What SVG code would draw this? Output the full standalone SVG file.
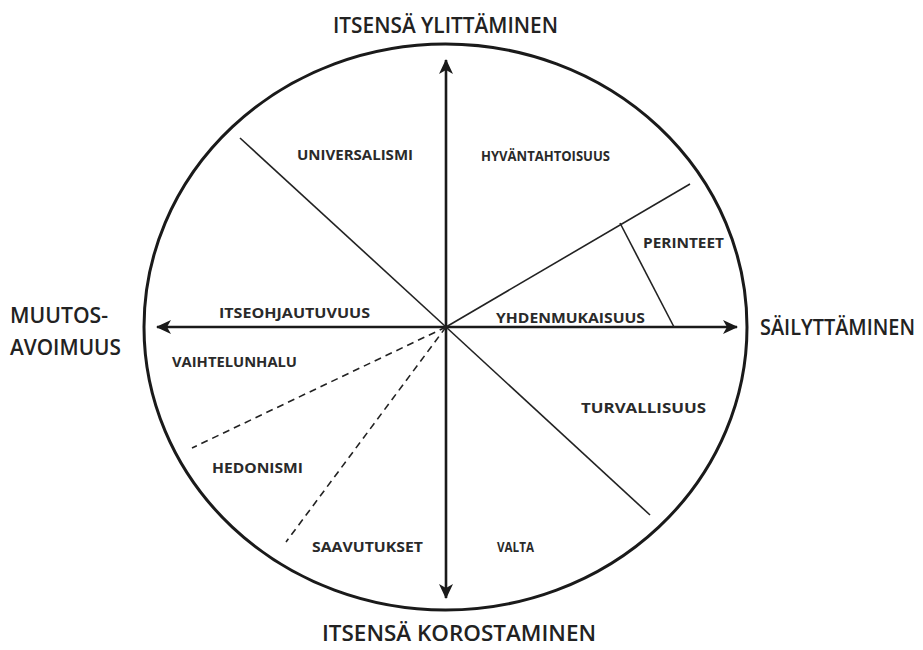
<svg xmlns="http://www.w3.org/2000/svg" width="923" height="650" viewBox="0 0 923 650">
<style>
.big{font-family:"Open Sans","Liberation Sans",sans-serif;font-weight:600;font-size:21px;fill:#222}
.lbl{font-family:"Open Sans","Liberation Sans",sans-serif;font-weight:700;font-size:14.5px;fill:#2a2a2a}
.axis{stroke:#1a1a1a;stroke-width:2.6;fill:none}
.div{stroke:#222;stroke-width:1.6;fill:none}
.dash{stroke:#222;stroke-width:1.6;fill:none;stroke-dasharray:7 5}
</style>
<defs>
<marker id="ah" markerUnits="userSpaceOnUse" markerWidth="16" markerHeight="14" refX="14" refY="7" orient="auto">
<path d="M0,0 L15,7 L0,14 L4,7 Z" fill="#1a1a1a"/>
</marker>
</defs>
<rect width="923" height="650" fill="#fff"/>
<g id="circle"><ellipse cx="445.5" cy="327" rx="301.5" ry="283" fill="none" stroke="#1a1a1a" stroke-width="3"/></g>
<g id="connectors">
<line class="axis" x1="446" y1="327" x2="446" y2="60" marker-end="url(#ah)"/>
<line class="axis" x1="446" y1="327" x2="446" y2="598" marker-end="url(#ah)"/>
<line class="axis" x1="446" y1="327" x2="157" y2="327" marker-end="url(#ah)"/>
<line class="axis" x1="446" y1="327" x2="737" y2="327" marker-end="url(#ah)"/>
<line class="div" x1="446" y1="327" x2="240" y2="138"/>
<line class="div" x1="446" y1="327" x2="690" y2="184"/>
<line class="div" x1="620" y1="223" x2="674" y2="327"/>
<line class="div" x1="446" y1="327" x2="650" y2="515"/>
<line class="dash" x1="446" y1="327" x2="192" y2="448"/>
<line class="dash" x1="446" y1="327" x2="286" y2="542"/>
</g>
<g id="top"><text class="big" x="333" y="33" textLength="225" lengthAdjust="spacingAndGlyphs">ITSENSÄ YLITTÄMINEN</text></g>
<g id="bottom"><text class="big" x="322" y="641" textLength="274" lengthAdjust="spacingAndGlyphs">ITSENSÄ KOROSTAMINEN</text></g>
<g id="left"><text class="big" x="10" y="323" textLength="98" lengthAdjust="spacingAndGlyphs">MUUTOS-</text><text class="big" x="10" y="355" textLength="111" lengthAdjust="spacingAndGlyphs">AVOIMUUS</text></g>
<g id="right"><text class="big" x="760" y="335" textLength="155" lengthAdjust="spacingAndGlyphs">SÄILYTTÄMINEN</text></g>
<g id="universalismi"><text class="lbl" x="297" y="160" textLength="116" lengthAdjust="spacingAndGlyphs">UNIVERSALISMI</text></g>
<g id="hyvantahtoisuus"><text class="lbl" x="481" y="161" textLength="129" lengthAdjust="spacingAndGlyphs">HYVÄNTAHTOISUUS</text></g>
<g id="perinteet"><text class="lbl" x="643" y="248" textLength="81" lengthAdjust="spacingAndGlyphs">PERINTEET</text></g>
<g id="yhdenmukaisuus"><text class="lbl" x="496" y="323" textLength="149" lengthAdjust="spacingAndGlyphs">YHDENMUKAISUUS</text></g>
<g id="itseohjautuvuus"><text class="lbl" x="219" y="318" textLength="151" lengthAdjust="spacingAndGlyphs">ITSEOHJAUTUVUUS</text></g>
<g id="vaihtelunhalu"><text class="lbl" x="172" y="367" textLength="125" lengthAdjust="spacingAndGlyphs">VAIHTELUNHALU</text></g>
<g id="turvallisuus"><text class="lbl" x="581" y="413" textLength="125" lengthAdjust="spacingAndGlyphs">TURVALLISUUS</text></g>
<g id="hedonismi"><text class="lbl" x="212" y="473" textLength="91" lengthAdjust="spacingAndGlyphs">HEDONISMI</text></g>
<g id="saavutukset"><text class="lbl" x="312" y="552" textLength="111" lengthAdjust="spacingAndGlyphs">SAAVUTUKSET</text></g>
<g id="valta"><text class="lbl" x="497" y="552" textLength="37" lengthAdjust="spacingAndGlyphs">VALTA</text></g>
</svg>
